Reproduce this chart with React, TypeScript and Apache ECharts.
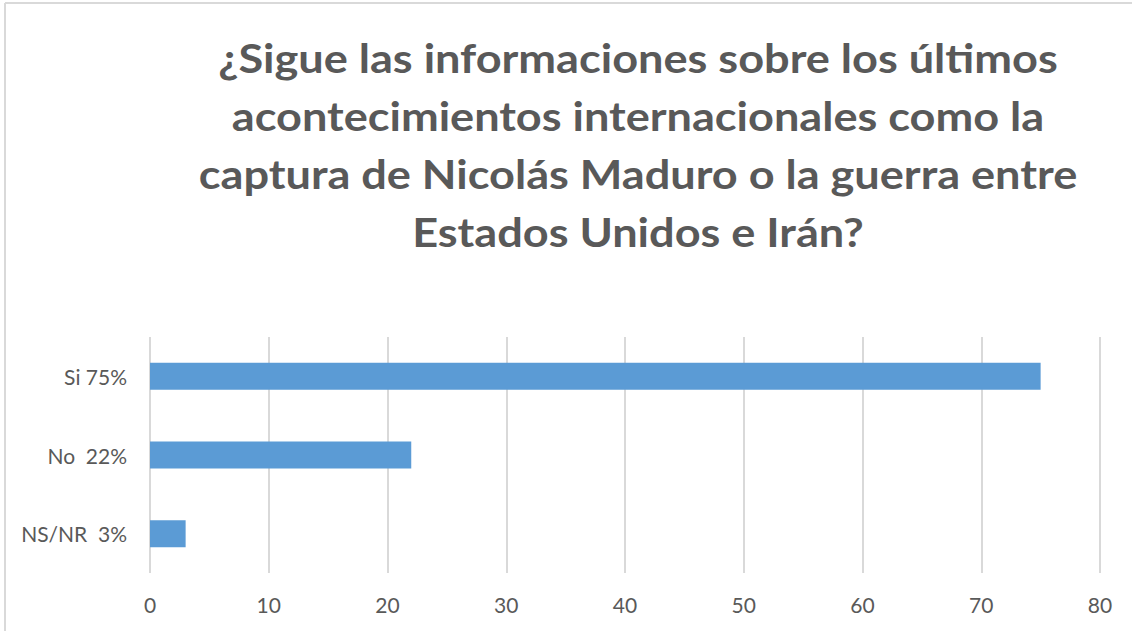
import React, { useEffect, useRef } from "react";
import * as echarts from "echarts";

const categories = ["NS/NR  3%", "No  22%", "Si 75%"];
const values = [3, 22, 75];
const xTicks = { min: 0, max: 80, interval: 10 };
const titleLines = [
  "¿Sigue las informaciones sobre los últimos",
  "acontecimientos internacionales como la",
  "captura de Nicolás Maduro o la guerra entre",
  "Estados Unidos e Irán?",
];

export default function App() {
  const ref = useRef<HTMLDivElement>(null);
  useEffect(() => {
    if (!ref.current) return;
    const chart = echarts.init(ref.current, undefined, { renderer: "svg" });
    chart.setOption({
      animation: false,
      backgroundColor: "#ffffff",
      graphic: [
        {
          type: "line",
          shape: { x1: 5, y1: 3, x2: 1132, y2: 3 },
          style: { stroke: "#d9d9d9", lineWidth: 2 },
        },
        {
          type: "line",
          shape: { x1: 5, y1: 3, x2: 5, y2: 631 },
          style: { stroke: "#d9d9d9", lineWidth: 2 },
        },
        {
          type: "text",
          x: 638,
          y: 28,
          scaleX: 1.1,
          style: {
            text: titleLines.join("\n"),
            textAlign: "center",
            textVerticalAlign: "top",
            fontFamily: "Lato",
            fontWeight: "bold",
            fontSize: 41,
            lineHeight: 58,
            fill: "#595959",
          },
        },
      ],
      grid: { left: 150, right: 32, top: 337, bottom: 58 },
      xAxis: {
        type: "value",
        min: xTicks.min,
        max: xTicks.max,
        interval: xTicks.interval,
        axisLine: { show: false },
        axisTick: { show: false },
        splitLine: { lineStyle: { color: "#d9d9d9", width: 2 } },
        axisLabel: {
          color: "#595959",
          fontFamily: "Lato",
          fontSize: 21,
          margin: 21,
        },
      },
      yAxis: {
        type: "category",
        data: categories,
        axisLine: { show: false },
        axisTick: { show: false },
        axisLabel: {
          color: "#595959",
          fontFamily: "Lato",
          fontSize: 21,
          margin: 23,
        },
      },
      series: [
        {
          type: "bar",
          data: values,
          barWidth: 27,
          itemStyle: { color: "#5b9bd5" },
        },
      ],
    });
    return () => chart.dispose();
  }, []);
  return (
    <div
      ref={ref}
      style={{ position: "fixed", left: 0, top: 0, width: 1132, height: 631 }}
    />
  );
}
